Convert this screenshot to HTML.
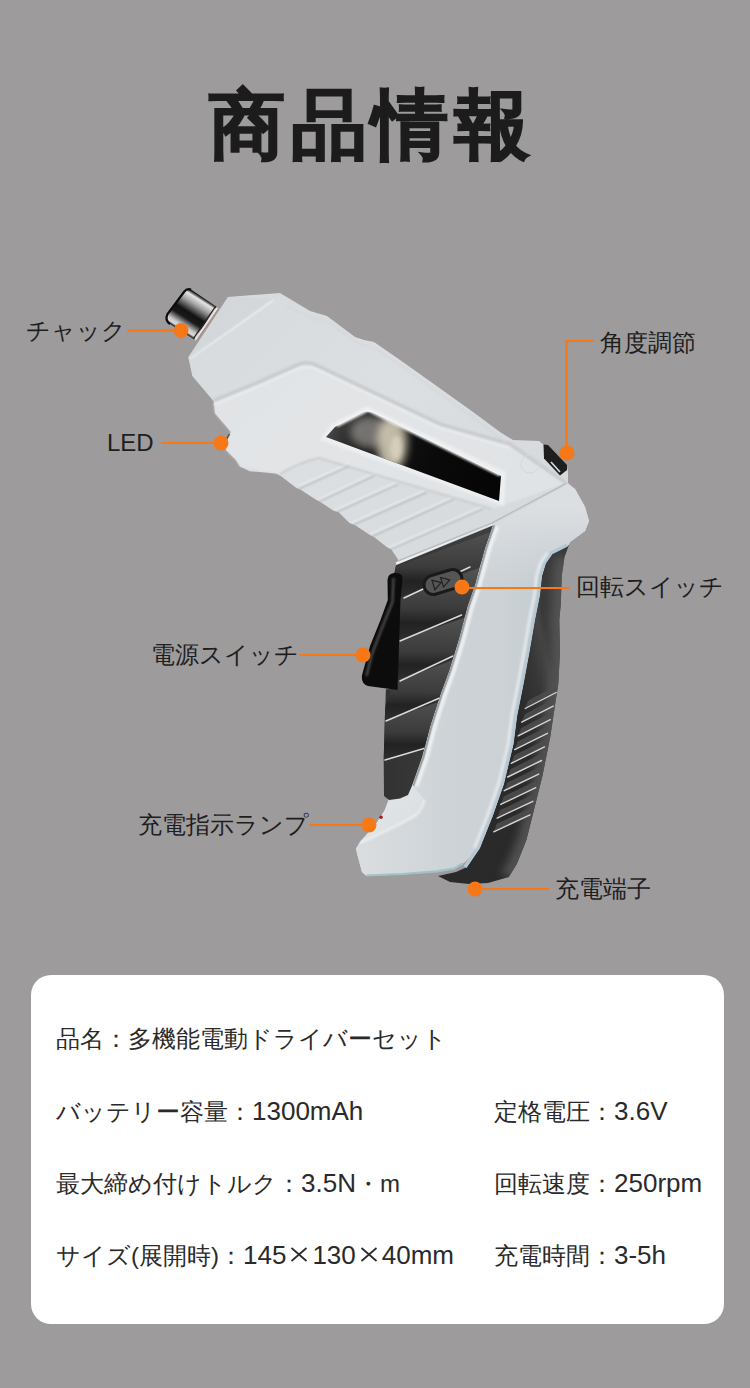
<!DOCTYPE html>
<html><head><meta charset="utf-8">
<style>
html,body{margin:0;padding:0}
body{width:750px;height:1388px;background:#9d9b9c;position:relative;overflow:hidden;font-family:"Liberation Sans",sans-serif;color:#1e1e1e}
.title{position:absolute;left:209px;top:70px;white-space:nowrap;font-size:76px;font-weight:900;line-height:110px;color:#1c1c1c;letter-spacing:5.6px;-webkit-text-stroke:1.6px #1c1c1c}
.lbl{position:absolute;font-size:24px;line-height:30px;white-space:nowrap;color:#1e1e1e}
svg{position:absolute;left:0;top:0}
.card{position:absolute;left:31px;top:975px;width:693px;height:349px;background:#fff;border-radius:20px}
.row{position:absolute;font-size:24px;line-height:30px;white-space:nowrap;color:#2a2a2a}
.n{font-size:26px;letter-spacing:0}
.xx{display:inline-block;vertical-align:2px;margin:0 4px 0 4px}
</style></head>
<body>
<div class="title">商品情報</div>

<svg width="750" height="1388" viewBox="0 0 750 1388">
<defs>
  <linearGradient id="gWhite" gradientUnits="userSpaceOnUse" x1="230" y1="300" x2="470" y2="560">
    <stop offset="0" stop-color="#d8dbdd"/>
    <stop offset="0.5" stop-color="#dcdfe1"/>
    <stop offset="1" stop-color="#d6dadd"/>
  </linearGradient>
  <linearGradient id="gHandle" gradientUnits="userSpaceOnUse" x1="360" y1="700" x2="540" y2="700">
    <stop offset="0" stop-color="#d9dde0"/>
    <stop offset="0.5" stop-color="#ced3d7"/>
    <stop offset="0.8" stop-color="#cbd1d5"/>
    <stop offset="1" stop-color="#c6cdd2"/>
  </linearGradient>
  <linearGradient id="gRGrip" gradientUnits="userSpaceOnUse" x1="515" y1="700" x2="560" y2="690">
    <stop offset="0" stop-color="#2a2a2a"/>
    <stop offset="0.55" stop-color="#363636"/>
    <stop offset="0.85" stop-color="#454545"/>
    <stop offset="1" stop-color="#3a3a3a"/>
  </linearGradient>
  <linearGradient id="gFGrip" gradientUnits="userSpaceOnUse" x1="390" y1="600" x2="480" y2="600">
    <stop offset="0" stop-color="#333"/>
    <stop offset="1" stop-color="#3f3f3f"/>
  </linearGradient>
  <linearGradient id="gBand" x1="0" y1="0" x2="0" y2="1">
    <stop offset="0" stop-color="#555"/>
    <stop offset="0.55" stop-color="#3c3c3c"/>
    <stop offset="0.75" stop-color="#202020"/>
    <stop offset="1" stop-color="#2e2e2e"/>
  </linearGradient>
  <linearGradient id="gChuck" gradientUnits="userSpaceOnUse" x1="190" y1="290" x2="169" y2="323">
    <stop offset="0" stop-color="#1a1a1a"/>
    <stop offset="0.08" stop-color="#e6e6e6"/>
    <stop offset="0.25" stop-color="#a0a0a0"/>
    <stop offset="0.5" stop-color="#121212"/>
    <stop offset="0.66" stop-color="#1a1a1a"/>
    <stop offset="0.86" stop-color="#c8c8c8"/>
    <stop offset="0.94" stop-color="#dcdcdc"/>
    <stop offset="1" stop-color="#1a1a1a"/>
  </linearGradient>
  <radialGradient id="gBlob" cx="0.5" cy="0.5" r="0.5">
    <stop offset="0" stop-color="#d6cdb6" stop-opacity="0.95"/>
    <stop offset="0.5" stop-color="#a8a090" stop-opacity="0.65"/>
    <stop offset="1" stop-color="#444" stop-opacity="0"/>
  </radialGradient>
  <linearGradient id="gWin" gradientUnits="userSpaceOnUse" x1="326" y1="430" x2="500" y2="490">
    <stop offset="0" stop-color="#4a4a4a"/>
    <stop offset="0.2" stop-color="#1a1a1a"/>
    <stop offset="0.6" stop-color="#0a0a0a"/>
    <stop offset="1" stop-color="#050505"/>
  </linearGradient>
  <linearGradient id="gFoot" gradientUnits="userSpaceOnUse" x1="360" y1="820" x2="440" y2="875">
    <stop offset="0" stop-color="#e2e5e7"/>
    <stop offset="1" stop-color="#d6dadd"/>
  </linearGradient>
  <filter id="blur1" x="-10%" y="-10%" width="120%" height="120%"><feGaussianBlur stdDeviation="0.8"/></filter>
  <filter id="blur2" x="-20%" y="-20%" width="140%" height="140%"><feGaussianBlur stdDeviation="2"/></filter>
  <filter id="blur4" x="-50%" y="-50%" width="200%" height="200%"><feGaussianBlur stdDeviation="4"/></filter>
</defs>

<path d="M569 545 L564.5 557 L561.7 576 L560.8 604 L559.3 620 L560 652 L558.3 684 L555.2 704 L550.4 736 L542.4 776 L534.4 808 L526.4 840 L516.8 864 L508.8 877 L488 883 L469 884 L450 882 L438 876 L456 872 L467 867 L480 848 L492.8 816 L504 784 L513.6 744 L517.2 716 L523.6 684 L529.5 652 L535 620 L540 595 L542 576 L546 563 L553 553 Z" fill="url(#gRGrip)"/>
<clipPath id="cRG"><path d="M569 545 L564.5 557 L561.7 576 L560.8 604 L559.3 620 L560 652 L558.3 684 L555.2 704 L550.4 736 L542.4 776 L534.4 808 L526.4 840 L516.8 864 L508.8 877 L488 883 L469 884 L450 882 L438 876 L456 872 L467 867 L480 848 L492.8 816 L504 784 L513.6 744 L517.2 716 L523.6 684 L529.5 652 L535 620 L540 595 L542 576 L546 563 L553 553 Z"/></clipPath>
<g clip-path="url(#cRG)"><path d="M563.5 557 L560.7 576 L559.8 604 L558.3 620 L559 652 L557.3 684 L554.2 704 L549.4 736 L541.4 776 L533.4 808 L525.4 840 L515.8 864 L507.8 877" fill="none" stroke="#555" stroke-width="16" filter="url(#blur4)" opacity="0.9"/></g>
<path d="M525.2 708.5 L556.1 692.5 L556.6 685.5 L528.2 700.5 Z" fill="#4e4e4e" opacity="0.85"/>
<path d="M521.7 722.2 L553.2 706.1 L553.7 699.1 L524.7 714.2 Z" fill="#4e4e4e" opacity="0.85"/>
<path d="M518.2 735.9 L550.3 719.7 L550.8 712.7 L521.2 727.9 Z" fill="#4e4e4e" opacity="0.85"/>
<path d="M514.7 749.6 L547.4 733.3 L547.9 726.3 L517.7 741.6 Z" fill="#4e4e4e" opacity="0.85"/>
<path d="M511.2 763.3 L544.5 746.9 L545.0 739.9 L514.2 755.3 Z" fill="#4e4e4e" opacity="0.85"/>
<path d="M507.7 777.0 L541.6 760.5 L542.1 753.5 L510.7 769.0 Z" fill="#4e4e4e" opacity="0.85"/>
<path d="M504.2 790.7 L538.7 774.1 L539.2 767.1 L507.2 782.7 Z" fill="#4e4e4e" opacity="0.85"/>
<path d="M500.7 804.4 L535.8 787.7 L536.3 780.7 L503.7 796.4 Z" fill="#4e4e4e" opacity="0.85"/>
<path d="M497.2 818.1 L532.9 801.3 L533.4 794.3 L500.2 810.1 Z" fill="#4e4e4e" opacity="0.85"/>
<path d="M493.7 831.8 L530.0 814.9 L530.5 807.9 L496.7 823.8 Z" fill="#4e4e4e" opacity="0.85"/>
<g stroke="#d4d4d4" stroke-width="1.4" stroke-linecap="round">
<line x1="525.2" y1="708.5" x2="556.1" y2="692.5"/>
<line x1="521.7" y1="722.2" x2="553.2" y2="706.1"/>
<line x1="518.2" y1="735.9" x2="550.3" y2="719.7"/>
<line x1="514.7" y1="749.6" x2="547.4" y2="733.3"/>
<line x1="511.2" y1="763.3" x2="544.5" y2="746.9"/>
<line x1="507.7" y1="777.0" x2="541.6" y2="760.5"/>
<line x1="504.2" y1="790.7" x2="538.7" y2="774.1"/>
<line x1="500.7" y1="804.4" x2="535.8" y2="787.7"/>
<line x1="497.2" y1="818.1" x2="532.9" y2="801.3"/>
<line x1="493.7" y1="831.8" x2="530.0" y2="814.9"/>
</g>
<path d="M228 297 L280 293 L310 311 L327 316 L355 337 L364 340 L374 342 L400 360 L431 382 L473 412 L500 432 L513 440 L539 441 L544 445 L548 446 L567 466 L568 472 L568 483 L575 489 L585 507 L589 521 L585 531 L570 542 L568.5 545 L552.5 553 L545.5 563 L541.5 576 L539.5 595 L534.5 620 L529 652 L523.1 684 L516.7 716 L513.1 744 L503.5 784 L492.3 816 L479.5 848 L462.6 864 L454 869.2 L436.7 871.8 L402 874.4 L366.5 876 L362 872 L357 853.6 L356 848.4 L360.4 841.5 L376 824 L384.7 810.3 L388 801.6 L386 700 L392 689 L393 580 L396 565.3 L398.4 560 L391.2 549.2 L386.4 546.8 L374.4 537.2 L369.6 534.8 L355.2 525.2 L349.2 522.8 L338.4 512 L333.6 510.8 L319.2 501.2 L314.4 498.8 L300 489.2 L296.4 488 L280.8 476 L276 473.6 L249.6 471.2 L240 466.4 L236 460 L226 450 L228 437 L231 432 L215 413.3 L213.7 401.3 L192.3 376 L188.3 357.3 Z" fill="url(#gWhite)"/>
<path d="M492.9 525.4 L530 505 L567 484 L575 489 L585 507 L589 521 L585 531 L570 542 L568.5 545 L552.5 553 L545.5 563 L541.5 576 L539.5 595 L534.5 620 L529 652 L523.1 684 L516.7 716 L513.1 744 L503.5 784 L492.3 816 L479.5 848 L462.6 864 L454 869.2 L436.7 871.8 L402 874.4 L366.5 876 L362 872 L357 853.6 L356 848.4 L360.4 843 L393.3 827.6 L415.9 815.5 L424.5 800 L412 785.7 L422 757.6 L430.5 725.2 L441 692.8 L449 671.2 L459 638.8 L467.5 606.4 L475 584.8 L485 548 L492.9 525.4 Z" fill="url(#gHandle)"/>
<clipPath id="cStripe"><path d="M492.9 525.4 L530 505 L567 484 L575 489 L585 507 L589 521 L585 531 L570 542 L568.5 545 L552.5 553 L545.5 563 L541.5 576 L539.5 595 L534.5 620 L529 652 L523.1 684 L516.7 716 L513.1 744 L503.5 784 L492.3 816 L479.5 848 L462.6 864 L454 869.2 L436.7 871.8 L402 874.4 L366.5 876 L362 872 L357 853.6 L356 848.4 L360.4 843 L393.3 827.6 L415.9 815.5 L424.5 800 L412 785.7 L422 757.6 L430.5 725.2 L441 692.8 L449 671.2 L459 638.8 L467.5 606.4 L475 584.8 L485 548 L492.9 525.4 Z"/></clipPath>
<linearGradient id="gTopFade" gradientUnits="userSpaceOnUse" x1="0" y1="505" x2="0" y2="585"><stop offset="0" stop-color="#dcdfe2" stop-opacity="1"/><stop offset="1" stop-color="#dcdfe2" stop-opacity="0"/></linearGradient>
<g clip-path="url(#cStripe)"><rect x="470" y="470" width="130" height="130" fill="url(#gTopFade)"/></g>
<path d="M567 545 L551 553 L544 563 L540 576 L538 595 L533 620 L527.5 652 L521.6 684 L515.2 716 L511.6 744 L502 784 L490.8 816 L478 848 L465 867" fill="none" stroke="#b4c7d3" stroke-width="3.5"/>
<path d="M547.5 553 L540.5 563 L536.5 576 L534.5 595 L529.5 620 L524 652 L518.1 684 L511.7 716 L508.1 744 L498.5 784 L487.3 816 L474.5 848" fill="none" stroke="#e4e8ea" stroke-width="3" filter="url(#blur1)"/>
<path d="M424.5 800 L415.9 815.5 L393.3 827.6 L360.4 843 L356 848.4 L360.4 841.5 L376 824 L384.7 810.3 L388 801.6 L400 798.6 L413 785.7 Z" fill="url(#gFoot)"/>
<path d="M360.4 843 L393.3 827.6 L415.9 815.5 Q422 810 424.5 800" fill="none" stroke="#f3f5f6" stroke-width="1.6" filter="url(#blur1)"/>
<path d="M366.5 875.5 L402 874 L436.7 871.3 L454 868.7 L462.6 863.5" fill="none" stroke="#9fc2c4" stroke-width="2.2"/>
<path d="M395.9 565.3 L492.9 525.4 L485 548 L475 584.8 L467.5 606.4 L459 638.8 L449 671.2 L441 692.8 L430.5 725.2 L422 757.6 L412 785.7 L408 795 L400 798.6 L389 800 L384 796 L384 796 L383.7 760 L384.8 720 L385.9 689.3 L393 689 L393 580 Z" fill="url(#gFGrip)"/>
<clipPath id="cFG"><path d="M395.9 565.3 L492.9 525.4 L485 548 L475 584.8 L467.5 606.4 L459 638.8 L449 671.2 L441 692.8 L430.5 725.2 L422 757.6 L412 785.7 L408 795 L400 798.6 L389 800 L384 796 L384 796 L383.7 760 L384.8 720 L385.9 689.3 L393 689 L393 580 Z"/></clipPath>
<g clip-path="url(#cFG)">
<path d="M392 568 L499 529 L479 567 L398 598 Z" fill="url(#gBand)" opacity="0.9"/>
<path d="M398 599 L479 568 L470.6 615 L394 641 Z" fill="url(#gBand)" opacity="0.9"/>
<path d="M394 642 L470.6 616 L462 656 L394 681 Z" fill="url(#gBand)" opacity="0.9"/>
<path d="M394 682 L462 657 L451 697 L380 721 Z" fill="url(#gBand)" opacity="0.9"/>
<path d="M380 722 L451 698 L438 747 L379 760 Z" fill="url(#gBand)" opacity="0.9"/>
<g stroke="#d9d9d9" stroke-width="1.5" stroke-linecap="round">
<line x1="404" y1="598" x2="470" y2="567"/>
<line x1="400" y1="641" x2="461.6" y2="615"/>
<line x1="400" y1="681" x2="453" y2="656"/>
<line x1="386" y1="721" x2="442" y2="697"/>
<line x1="385" y1="760" x2="429" y2="747"/>
</g>
</g>
<path d="M494.4 525.4 L486.5 548 L476.5 584.8 L469 606.4 L460.5 638.8 L450.5 671.2 L442.5 692.8 L432 725.2 L423.5 757.6 L413.5 785.7" fill="none" stroke="#8f969b" stroke-width="2"/>
<path d="M497.4 526.4 L489.5 549 L479.5 585.8 L472 607.4 L463.5 639.8 L453.5 672.2 L445.5 693.8 L435 726.2 L426.5 758.6 L416.5 786.7" fill="none" stroke="#f0f2f3" stroke-width="3.5" filter="url(#blur1)"/>
<path d="M396 563.5 L492 523.5" stroke="#eef0f1" stroke-width="2"/>
<path d="M213.7 403 L260 384 L296 368 Q304 363 314 366 L440 426 L510 446 L566 483 L492 509 L319 458 Q300 462 280 474 L240 466.4 L236 460 L226 450 L228 437 L231 432 L215 413.3 Z" fill="#e6e8ea" opacity="0.65" filter="url(#blur1)"/>
<clipPath id="cWhite"><path d="M228 297 L280 293 L310 311 L327 316 L355 337 L364 340 L374 342 L400 360 L431 382 L473 412 L500 432 L513 440 L539 441 L544 445 L548 446 L567 466 L568 472 L568 483 L575 489 L585 507 L589 521 L585 531 L570 542 L568.5 545 L552.5 553 L545.5 563 L541.5 576 L539.5 595 L534.5 620 L529 652 L523.1 684 L516.7 716 L513.1 744 L503.5 784 L492.3 816 L479.5 848 L462.6 864 L454 869.2 L436.7 871.8 L402 874.4 L366.5 876 L362 872 L357 853.6 L356 848.4 L360.4 841.5 L376 824 L384.7 810.3 L388 801.6 L386 700 L392 689 L393 580 L396 565.3 L398.4 560 L391.2 549.2 L386.4 546.8 L374.4 537.2 L369.6 534.8 L355.2 525.2 L349.2 522.8 L338.4 512 L333.6 510.8 L319.2 501.2 L314.4 498.8 L300 489.2 L296.4 488 L280.8 476 L276 473.6 L249.6 471.2 L240 466.4 L236 460 L226 450 L228 437 L231 432 L215 413.3 L213.7 401.3 L192.3 376 L188.3 357.3 Z"/></clipPath>
<g filter="url(#blur1)" clip-path="url(#cWhite)">
<line x1="298.8" y1="488.40000000000003" x2="349.2" y2="465.6" stroke="#a3a9ae" stroke-width="1.7"/>
<line x1="298.8" y1="486.8" x2="349.2" y2="464" stroke="#f4f6f7" stroke-width="1.6"/>
<line x1="315.6" y1="502.8" x2="374.4" y2="475.20000000000005" stroke="#a3a9ae" stroke-width="1.7"/>
<line x1="315.6" y1="501.2" x2="374.4" y2="473.6" stroke="#f4f6f7" stroke-width="1.6"/>
<line x1="334.8" y1="512.4" x2="398.4" y2="483.6" stroke="#a3a9ae" stroke-width="1.7"/>
<line x1="334.8" y1="510.8" x2="398.4" y2="482" stroke="#f4f6f7" stroke-width="1.6"/>
<line x1="350.4" y1="525.6" x2="427" y2="491.6" stroke="#a3a9ae" stroke-width="1.7"/>
<line x1="350.4" y1="524" x2="427" y2="490" stroke="#f4f6f7" stroke-width="1.6"/>
<line x1="370.8" y1="536.4" x2="454" y2="498.6" stroke="#a3a9ae" stroke-width="1.7"/>
<line x1="370.8" y1="534.8" x2="454" y2="497" stroke="#f4f6f7" stroke-width="1.6"/>
<line x1="386.4" y1="550.8000000000001" x2="483" y2="508.3" stroke="#a3a9ae" stroke-width="1.7"/>
<line x1="386.4" y1="549.2" x2="483" y2="506.7" stroke="#f4f6f7" stroke-width="1.6"/>
</g>
<path d="M280 474 Q300 462 319 458 L492 509" fill="none" stroke="#c2c7cb" stroke-width="1.5" filter="url(#blur1)"/>
<path d="M398 561 L492 523 L567 483" fill="none" stroke="#b9bec2" stroke-width="1.5"/>
<g filter="url(#blur1)">
<path d="M213.7 400.5 L260 381.5 L296 365.5 Q304 361 314 364 L440 424 L510 444 L566 483" fill="none" stroke="#c6cacd" stroke-width="3.2"/>
<path d="M214 404.5 L260 385.5 L296 369.5 Q304 365 314 368 L440 428 L510 448" fill="none" stroke="#eceef0" stroke-width="1.8"/>
<path d="M190 358 L273 300" fill="none" stroke="#eef0f2" stroke-width="1.8"/>
<path d="M286 306 L312 318 L330 323 L358 343 L376 349 L402 366 L432 388 L474 418 L506 443" fill="none" stroke="#d0d4d7" stroke-width="1.2"/>
</g>
<path d="M228 297 L273 299 L190 358 L188.3 357.3 Z" fill="#d0d3d6" opacity="0.5"/>
<path d="M320 440 L331 424 L367 406 L506 472 L504 506 Z" fill="#eceef0" filter="url(#blur1)"/>
<clipPath id="cWin"><path d="M326 437 L335 427 L362 413.2 Q368 410.4 374 413.4 L501 476 L499 501 Z"/></clipPath>
<path d="M326 437 L335 427 L362 413.2 Q368 410.4 374 413.4 L501 476 L499 501 Z" fill="url(#gWin)"/>
<g clip-path="url(#cWin)">
<ellipse cx="370" cy="432" rx="20" ry="16" fill="#9c9a94" opacity="0.7" filter="url(#blur4)"/>
<ellipse cx="392" cy="443" rx="15" ry="28" fill="#d2cab6" opacity="0.9" filter="url(#blur4)"/>
<ellipse cx="396" cy="448" rx="6" ry="12" fill="#e0d8c4" opacity="0.7" filter="url(#blur2)"/>
</g>
<path d="M337 426 L368 410.5 L500 475.5" fill="none" stroke="#f7f8f9" stroke-width="2" filter="url(#blur1)"/>
<path d="M191 289.5 L217.6 307.6 L195.2 340.1 L170 324 Q164.5 320.5 167.5 314 L184 292 Q187 288 191 289.5 Z" fill="url(#gChuck)"/>
<path d="M170 324 Q164.5 320.5 167.5 314 L184 292 Q187 288 191 289.5" fill="none" stroke="#0c0c0c" stroke-width="2.2"/>
<path d="M217.6 307.6 L195.2 340.1" stroke="#e4e4e4" stroke-width="2.4"/>
<path d="M215.6 306.3 L193.2 338.8" stroke="#222" stroke-width="1.2"/>
<path d="M218.6 308.3 L196.2 340.8" stroke="#b07060" stroke-width="0.7"/>
<path d="M543.5 444.5 L548 445 L567 465 L567 470 L560 475.5 L544 458.5 Z" fill="#1e1e1e"/>
<path d="M551 462 L560 472" stroke="#ddd" stroke-width="1.6"/>
<circle cx="530" cy="464" r="9" fill="none" stroke="#d3d7da" stroke-width="1"/>
<path d="M229.5 434 L226 440" stroke="#555" stroke-width="1.5"/>
<circle cx="381" cy="817.3" r="1.8" fill="#a02020"/>
<path d="M394 573 Q401 572.5 402.5 577 L402 584 L400.5 600 L397.5 690 L368 686 Q361.5 684 361.8 676 L370 646 L380.3 620.5 L387.8 600 L387.5 580 Q388 573.5 394 573 Z" fill="#0c0c0c"/>
<path d="M393.5 578 L392.5 602 L382 628 L372 654 L366.5 676" fill="none" stroke="#505050" stroke-width="2.2" filter="url(#blur1)"/>
<g transform="rotate(-17 443 582)">
  <rect x="422" y="571" width="42" height="22" rx="11" fill="#1a1a1a"/>
  <rect x="425" y="574" width="36" height="16" rx="8" fill="#555"/>
  <path d="M433 577 L441 582 L433 587 Z M442 577 L450 582 L442 587 Z" fill="none" stroke="#222" stroke-width="1.2"/>
</g>
<g stroke="#f87716" stroke-width="2" fill="none">
  <line x1="127" y1="330.5" x2="181" y2="330.5"/>
  <line x1="161" y1="443" x2="221" y2="443"/>
  <polyline points="593.5,341 566.5,341 566.5,453"/>
  <line x1="462" y1="588" x2="569" y2="588"/>
  <line x1="299" y1="655" x2="363" y2="655"/>
  <line x1="309" y1="825" x2="369" y2="825"/>
  <line x1="475" y1="889" x2="549" y2="889"/>
</g>
<g fill="#f87716">
  <circle cx="181" cy="330.5" r="7.5"/>
  <circle cx="221" cy="443" r="7.5"/>
  <circle cx="567" cy="453" r="7.5"/>
  <circle cx="462" cy="587" r="7.5"/>
  <circle cx="363" cy="655" r="7.5"/>
  <circle cx="369" cy="825" r="7.5"/>
  <circle cx="475" cy="889" r="7.5"/>
</g>
</svg>

<div class="lbl" style="left:26px;top:316px">チャック</div>
<div class="lbl" style="left:107px;top:428px">LED</div>
<div class="lbl" style="left:600px;top:328px">角度調節</div>
<div class="lbl" style="left:576px;top:572px">回転スイッチ</div>
<div class="lbl" style="left:151px;top:640px">電源スイッチ</div>
<div class="lbl" style="left:138px;top:810px">充電指示ランプ</div>
<div class="lbl" style="left:555px;top:874px">充電端子</div>

<div class="card"></div>
<div class="row" style="left:56px;top:1024px">品名：多機能電動ドライバーセット</div>
<div class="row" style="left:56px;top:1096px">バッテリー容量：<span class="n">1300mAh</span></div>
<div class="row" style="left:494px;top:1096px">定格電圧：<span class="n">3.6V</span></div>
<div class="row" style="left:56px;top:1168px">最大締め付けトルク：<span class="n">3.5N</span>・m</div>
<div class="row" style="left:494px;top:1168px">回転速度：<span class="n">250rpm</span></div>
<div class="row" style="left:56px;top:1240px">サイズ(展開時)：<span class="n">145</span><svg class="xx" width="18" height="15" viewBox="0 0 18 15" style="position:static"><path d="M1.5 1 L16.5 14 M16.5 1 L1.5 14" stroke="#2a2a2a" stroke-width="1.7" fill="none"/></svg><span class="n">130</span><svg class="xx" width="18" height="15" viewBox="0 0 18 15" style="position:static"><path d="M1.5 1 L16.5 14 M16.5 1 L1.5 14" stroke="#2a2a2a" stroke-width="1.7" fill="none"/></svg><span class="n">40mm</span></div>
<div class="row" style="left:494px;top:1240px">充電時間：<span class="n">3-5h</span></div>
</body></html>
